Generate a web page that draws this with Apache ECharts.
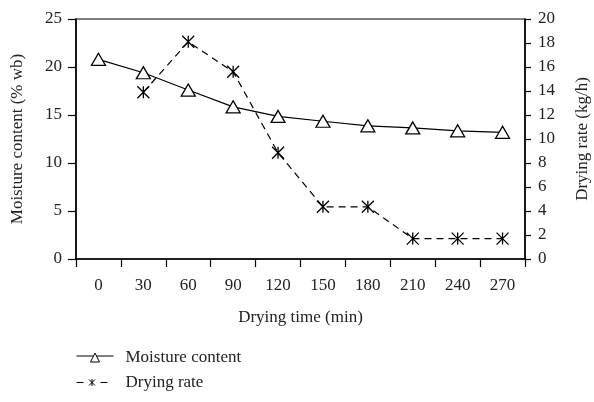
<!DOCTYPE html>
<html><head><meta charset="utf-8">
<script src="https://cdn.jsdelivr.net/npm/echarts@6/dist/echarts.min.js"></script>
<style>html,body{margin:0;padding:0;background:#fff}#c{width:594px;height:402px}</style>
</head><body><div id="c"></div>
<script>
const categories = ['0','30','60','90','120','150','180','210','240','270'];
const moistureContent = [20.8, 19.4, 17.6, 15.85, 14.85, 14.35, 13.87, 13.65, 13.35, 13.2];
const dryingRate = [null, 13.9, 18.1, 15.6, 8.85, 4.35, 4.35, 1.7, 1.7, 1.7];
const leftTicks = [0,5,10,15,20,25];
const rightTicks = [0,2,4,6,8,10,12,14,16,18,20];

const FONT = 'Liberation Serif';
const txt = {fontFamily: FONT, fontSize: 17, color: '#222'};
const axisLine = {show: true, lineStyle: {color: '#000', width: 1.5}};
const asterisk = 'path://M0,0 L10,10 M10,0 L0,10 M5,0 L5,10';

const chart = echarts.init(document.getElementById('c'), null, {renderer: 'canvas'});
chart.setOption({
  animation: false,
  backgroundColor: '#fff',
  grid: {left: 76, right: 69, top: 19, bottom: 143, containLabel: false, outerBoundsMode: 'none',
    show: true, borderColor: '#000', borderWidth: 1.2, backgroundColor: 'transparent'},
  xAxis: {
    type: 'category', data: categories, boundaryGap: true,
    name: 'Drying time (min)', nameLocation: 'middle', nameGap: 50,
    nameTextStyle: txt,
    axisLine: axisLine,
    axisTick: {show: true, inside: false, length: 8, lineStyle: {color: '#000', width: 1.2}},
    axisLabel: Object.assign({margin: 18}, txt)
  },
  yAxis: [{
    type: 'value', min: 0, max: 25, interval: 5,
    name: 'Moisture content (% wb)', nameLocation: 'middle', nameGap: 50, nameRotate: 90,
    nameTextStyle: txt,
    axisLine: axisLine,
    axisTick: {show: true, length: 8, lineStyle: {color: '#000', width: 1.2}},
    axisLabel: Object.assign({margin: 14}, txt),
    splitLine: {show: false}
  }, {
    type: 'value', min: 0, max: 20, interval: 2, position: 'right',
    name: 'Drying rate (kg/h)', nameLocation: 'middle', nameGap: 49, nameRotate: 90,
    nameTextStyle: txt,
    axisLine: axisLine,
    axisTick: {show: true, length: 6, lineStyle: {color: '#000', width: 1.2}},
    axisLabel: Object.assign({margin: 13}, txt),
    splitLine: {show: false}
  }],
  legend: {
    orient: 'vertical', left: 76, top: 349, height: 53, itemWidth: 37, itemHeight: 9, itemGap: 8,
    padding: 0,
    textStyle: Object.assign({padding: [0, 0, 0, 7]}, txt),
    data: [{
      name: 'Moisture content',
      icon: 'path://M0,3 L17,3 M20,3 L37,3 M18.5,0 L14,9 L23,9 Z',
      itemStyle: {color: '#fff', borderColor: '#000', borderWidth: 1}
    }, {
      name: 'Drying rate',
      icon: 'path://M0,4.5 L7,4.5 M12.5,1.5 L18.5,7.5 M18.5,1.5 L12.5,7.5 M15.5,1 L15.5,8 M24,4.5 L31,4.5 M37,0 L37,0.01 M37,9 L37,9.01',
      itemStyle: {color: 'rgba(0,0,0,0)', borderColor: '#000', borderWidth: 1}
    }]
  },
  series: [{
    name: 'Moisture content', type: 'line', yAxisIndex: 0, data: moistureContent,
    symbol: 'triangle', symbolSize: [14, 12], showAllSymbol: true,
    lineStyle: {color: '#000', width: 1.2},
    itemStyle: {color: '#fff', borderColor: '#000', borderWidth: 1.3}
  }, {
    name: 'Drying rate', type: 'line', yAxisIndex: 1, data: dryingRate,
    symbol: asterisk, symbolSize: [12, 12], showAllSymbol: true,
    lineStyle: {color: '#000', width: 1.2, type: [7, 5]},
    itemStyle: {color: 'rgba(0,0,0,0)', borderColor: '#000', borderWidth: 1.3}
  }]
});
</script></body></html>
